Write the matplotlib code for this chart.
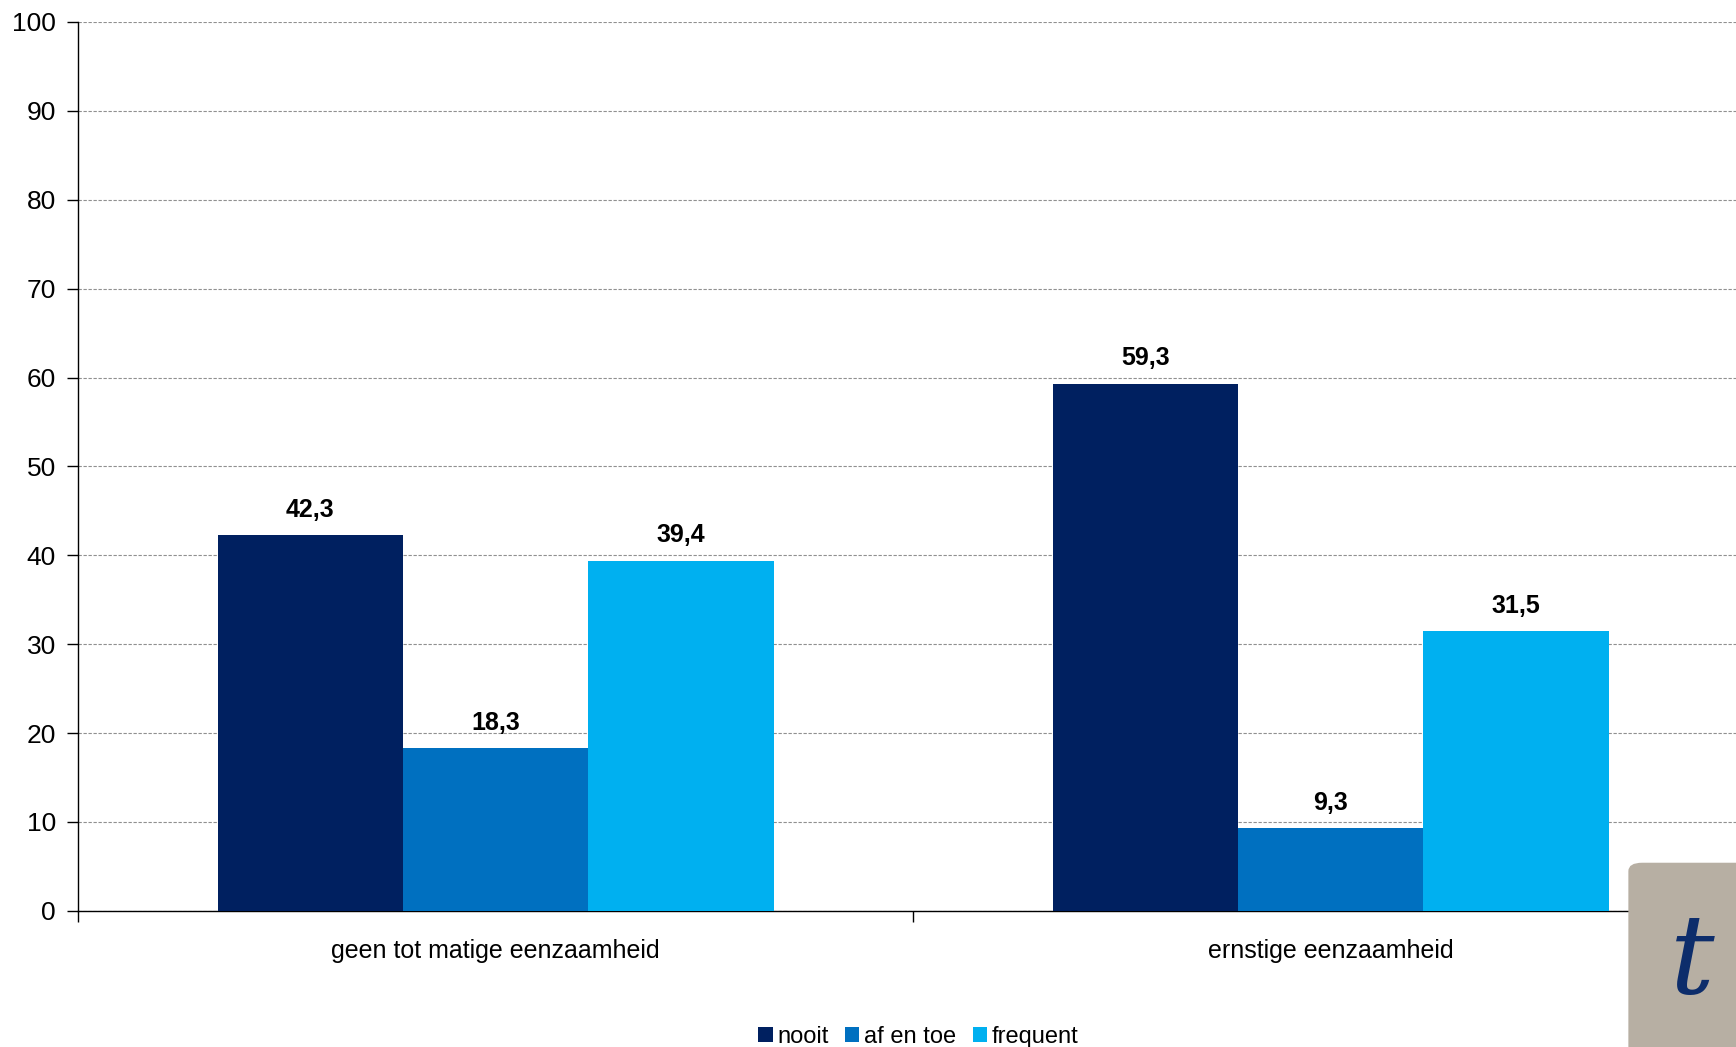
import numpy as np
import matplotlib.pyplot as plt
from matplotlib.patches import FancyBboxPatch

categories = ['geen tot matige eenzaamheid', 'ernstige eenzaamheid']
series = ['nooit', 'af en toe', 'frequent']
nooit = [42.3, 59.3]
af_en_toe = [18.3, 9.3]
frequent = [39.4, 31.5]
colors = ['#002060', '#0070C0', '#00B0F0']

plt.rcParams['font.family'] = ['Liberation Sans Narrow', 'Liberation Sans', 'DejaVu Sans']

fig = plt.figure(figsize=(17.36, 10.47), dpi=100)
ax = fig.add_axes([0.045, 0.130, 0.962, 0.849])

x = np.arange(len(categories))
w = 0.222
for i, (vals, name) in enumerate(zip([nooit, af_en_toe, frequent], series)):
    pos = x + (i - 1) * w
    bars = ax.bar(pos, vals, w, color=colors[i], label=name, zorder=3)
    for b, v in zip(bars, vals):
        ax.text(b.get_x() + b.get_width() / 2, v + 1.5, f'{v:.1f}'.replace('.', ','),
                ha='center', va='bottom', fontsize=18, fontweight='bold')

ax.set_xlim(-0.5, 1.5)
ax.set_ylim(0, 100)
ax.set_yticks(range(0, 101, 10))
ax.yaxis.grid(True, linestyle=(0, (3, 1.5)), color='#909090', linewidth=0.8, zorder=0)
ax.tick_params(axis='y', labelsize=19, length=8, width=1, direction='out', pad=8)

ax.set_xticks([-0.5, 0.5, 1.5])
ax.set_xticklabels([])
ax.set_xticks(x, minor=True)
ax.set_xticklabels(categories, minor=True, fontsize=18)
ax.tick_params(axis='x', which='major', length=8, width=1, direction='out')
ax.tick_params(axis='x', which='minor', length=0, pad=20)

for s in ['top', 'right']:
    ax.spines[s].set_visible(False)
ax.spines['left'].set_linewidth(1)
ax.spines['bottom'].set_linewidth(1)

fig.legend(loc='lower center', bbox_to_anchor=(0.529, -0.021), ncol=3, frameon=False,
           fontsize=17, handlelength=0.6, handleheight=0.6, handletextpad=0.2,
           columnspacing=0.7)

# logo block in lower right corner
logo = FancyBboxPatch((0.938, -0.03), 0.08, 0.206, boxstyle='round,pad=0,rounding_size=0.008',
                      transform=fig.transFigure, facecolor='#b7afa3', edgecolor='none', zorder=5)
fig.patches.append(logo)
fig.text(0.975, 0.08, 't', transform=fig.transFigure, fontsize=80, color='#0d2d6b',
         style='italic', ha='center', va='center', zorder=6, family='DejaVu Serif')

plt.savefig('out.png', dpi=100)
